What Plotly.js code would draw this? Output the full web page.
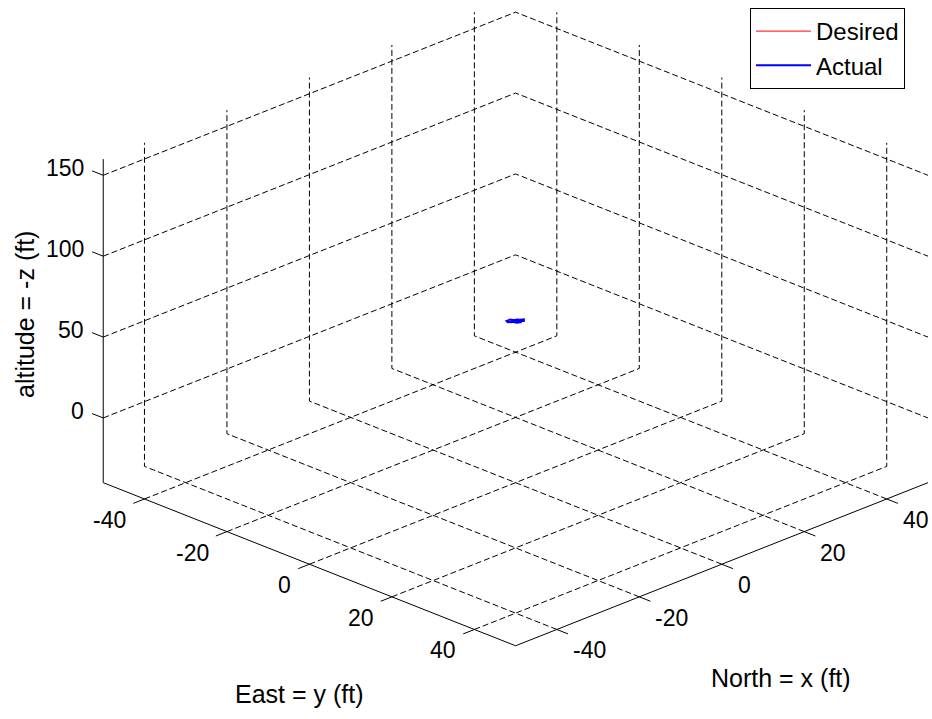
<!DOCTYPE html>
<html>
<head>
<meta charset="utf-8">
<script src="https://cdn.plot.ly/plotly-3.0.1.min.js"></script>
<style>
html,body{margin:0;padding:0;background:#ffffff;}
#chart{width:932px;height:719px;}
</style>
</head>
<body>
<div id="chart"></div>
<script>
// ---- data ----
const eastTicks  = [-40, -20, 0, 20, 40];
const northTicks = [-40, -20, 0, 20, 40];
const altTicks   = [0, 50, 100, 150];
const eastRange  = [-50, 50];
const northRange = [-50, 50];
const altRange   = [-40, 160];

// desired trajectory: a single hover point (draws no visible line)
const desiredEast  = [0];
const desiredNorth = [0];
const desiredAlt   = [60];

// actual trajectory: small scribble around the hover point
const actualEast  = [0, 0.7, 1.1, 0.8, 0.2, -0.4, -1.0, -1.2, -0.8, -0.2, 0.5, 1.0, 0.6, -0.1, -0.7, -0.3, 0.2];
const actualNorth = [0, 0.4, 0.9, 1.2, 0.7, 0.1, -0.3, -1.0, -1.1, -0.6, -0.2, 0.3, 0.8, 0.5, -0.2, -0.6, -0.1];
const actualAlt   = [60, 60.3, 60.1, 60.6, 60.4, 59.9, 60.2, 59.7, 59.5, 59.8, 59.6, 60.0, 60.4, 60.2, 59.8, 59.6, 59.9];

// ---- 3D view (MATLAB style): azimuth / elevation projection ----
const AZ = 45 * Math.PI / 180;
const EL = 23.3 * Math.PI / 180;
const Z_ASPECT = 0.604;
const TICK_LEN = 2.7;   // in data units

function proj(E, N, Z) {
  const ex = (E - (eastRange[0] + eastRange[1]) / 2) / (eastRange[1] - eastRange[0]);
  const nx = (N - (northRange[0] + northRange[1]) / 2) / (northRange[1] - northRange[0]);
  const zx = (Z - (altRange[0] + altRange[1]) / 2) / (altRange[1] - altRange[0]) * Z_ASPECT;
  const u = ex * Math.cos(AZ) + nx * Math.sin(AZ);
  const w = -ex * Math.sin(AZ) + nx * Math.cos(AZ);
  const v = w * Math.sin(EL) + zx * Math.cos(EL);
  return [u, v];
}

function projectTrace(Es, Ns, Zs) {
  const x = [], y = [];
  for (let i = 0; i < Es.length; i++) {
    if (Es[i] === null) { x.push(null); y.push(null); continue; }
    const p = proj(Es[i], Ns[i], Zs[i]);
    x.push(p[0]); y.push(p[1]);
  }
  return {x: x, y: y};
}

const e0 = eastRange[0], e1 = eastRange[1];
const n0 = northRange[0], n1 = northRange[1];
const z0 = altRange[0], z1 = altRange[1];

function polyBuilder() {
  const E = [], N = [], Z = [];
  return {
    add(pts) { pts.forEach(p => { E.push(p[0]); N.push(p[1]); Z.push(p[2]); }); E.push(null); N.push(null); Z.push(null); },
    get() { return projectTrace(E, N, Z); }
  };
}

// dashed grid on the three back faces
const grid = polyBuilder();
eastTicks.forEach(e => grid.add([[e, n0, z0], [e, n1, z0], [e, n1, z1]]));
northTicks.forEach(n => grid.add([[e1, n, z0], [e0, n, z0], [e0, n, z1]]));
altTicks.forEach(h => grid.add([[e0, n0, h], [e0, n1, h], [e1, n1, h]]));
const gridXY = grid.get();

// solid axis lines and tick marks
const axes = polyBuilder();
axes.add([[e0, n0, z1], [e0, n0, z0], [e1, n0, z0], [e1, n1, z0]]);
eastTicks.forEach(e => axes.add([[e, n0, z0], [e, n0 - TICK_LEN, z0]]));
northTicks.forEach(n => axes.add([[e1, n, z0], [e1 + TICK_LEN, n, z0]]));
altTicks.forEach(h => axes.add([[e0, n0, h], [e0 - TICK_LEN, n0, h]]));
const axesXY = axes.get();

const desXY = projectTrace(desiredEast, desiredNorth, desiredAlt);
const actXY = projectTrace(actualEast, actualNorth, actualAlt);

const FONT = 'Liberation Sans, Arial, Helvetica, sans-serif';

const traces = [
  {type: 'scatter', mode: 'lines', x: gridXY.x, y: gridXY.y, connectgaps: false,
   line: {color: '#000000', width: 1, dash: '6px,3px'}, showlegend: false, hoverinfo: 'skip'},
  {type: 'scatter', mode: 'lines', x: axesXY.x, y: axesXY.y, connectgaps: false,
   line: {color: '#000000', width: 1}, showlegend: false, hoverinfo: 'skip'},
  {type: 'scatter', mode: 'lines', name: 'Desired', x: desXY.x, y: desXY.y,
   line: {color: '#ff0000', width: 1}},
  {type: 'scatter', mode: 'lines', name: 'Actual', x: actXY.x, y: actXY.y,
   line: {color: '#0000ff', width: 2}}
];

// tick labels as annotations anchored at the projected tick positions
const annotations = [];
const tickFont = {family: FONT, size: 23, color: '#000000'};
eastTicks.forEach(e => {
  const p = proj(e, n0, z0);
  annotations.push({text: String(e), x: p[0], y: p[1], xref: 'x', yref: 'y', showarrow: false,
    xanchor: 'right', yanchor: 'middle', xshift: -16, yshift: -21, font: tickFont});
});
northTicks.forEach(n => {
  const p = proj(e1, n, z0);
  annotations.push({text: String(n), x: p[0], y: p[1], xref: 'x', yref: 'y', showarrow: false,
    xanchor: 'left', yanchor: 'middle', xshift: 14, yshift: -21, font: tickFont});
});
altTicks.forEach(h => {
  const p = proj(e0, n0, h);
  annotations.push({text: String(h), x: p[0], y: p[1], xref: 'x', yref: 'y', showarrow: false,
    xanchor: 'right', yanchor: 'middle', xshift: -17, yshift: 7, font: tickFont});
});

const titleFont = {family: FONT, size: 25, color: '#000000'};
annotations.push(
  {text: 'altitude = -z (ft)', xref: 'paper', yref: 'paper', x: 25 / 932, y: 1 - 315 / 719,
   xanchor: 'center', yanchor: 'middle', textangle: -90, showarrow: false, font: titleFont},
  {text: 'East = y (ft)', xref: 'paper', yref: 'paper', x: 299 / 932, y: 1 - 694 / 719,
   xanchor: 'center', yanchor: 'middle', showarrow: false, font: titleFont},
  {text: 'North = x (ft)', xref: 'paper', yref: 'paper', x: 781 / 932, y: 1 - 678 / 719,
   xanchor: 'center', yanchor: 'middle', showarrow: false, font: titleFont}
);

const hidden = {visible: false, showgrid: false, zeroline: false, fixedrange: true};

const layout = {
  width: 932, height: 719,
  margin: {l: 0, r: 0, t: 0, b: 0},
  paper_bgcolor: '#ffffff', plot_bgcolor: '#ffffff',
  showlegend: true,
  hovermode: false,
  font: {family: FONT, size: 23, color: '#000000'},
  xaxis: Object.assign({range: [-0.8841, 0.7140]}, hidden),
  yaxis: Object.assign({range: [-0.6826, 0.5502]}, hidden),
  legend: {
    x: 905 / 932, xanchor: 'right', y: 1 - 8 / 719, yanchor: 'top',
    bordercolor: '#000000', borderwidth: 1, bgcolor: '#ffffff',
    itemwidth: 55,
    font: {family: FONT, size: 24, color: '#000000'}
  },
  annotations: annotations
};

Plotly.newPlot('chart', traces, layout, {displayModeBar: false, staticPlot: true});
</script>
</body>
</html>
